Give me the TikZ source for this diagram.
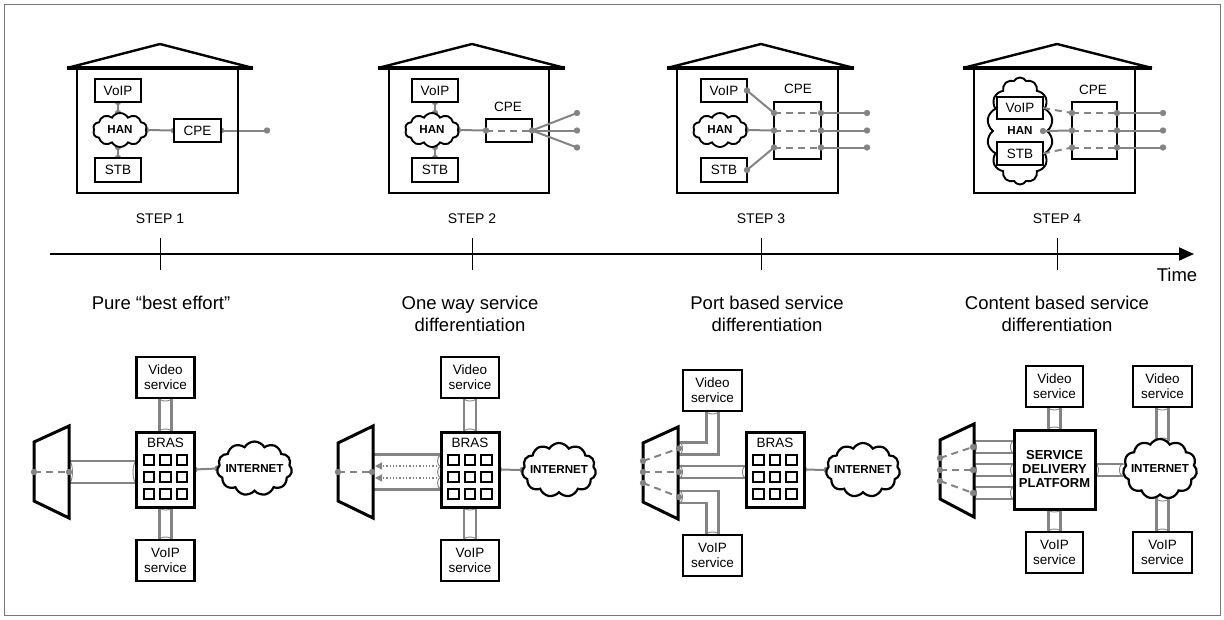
\documentclass[tikz,border=0pt]{standalone}
\usepackage{fontspec}
\setmainfont{Liberation Sans}
\usetikzlibrary{shapes.symbols,arrows.meta,calc}
\pgfdeclarelayer{bg}
\pgfsetlayers{bg,main}
\definecolor{wire}{RGB}{132,132,132}
\definecolor{framegray}{RGB}{120,120,120}
\newcommand\fsz[1]{\fontsize{#1}{#1}\selectfont}
\tikzset{
  every node/.style={inner sep=0pt, outer sep=0pt},
  hbox/.style={draw, line width=1.9pt, fill=white, minimum width=46pt, minimum height=23pt, font=\fsz{13.5}},
  svcbox/.style={draw, line width=2.3pt, fill=white, minimum width=58pt, minimum height=41pt, align=center, font=\fontsize{13.5}{15}\selectfont},
  brasbox/.style={draw, line width=3pt, fill=white, minimum width=58pt, minimum height=75pt},
  hancloud/.style={cloud, cloud puffs=10, cloud puff arc=120, cloud ignores aspect, draw, line width=1.9pt, fill=white},
  netcloud/.style={cloud, cloud puffs=11, cloud puff arc=120, cloud ignores aspect, draw, line width=2.2pt, fill=white, minimum width=75pt, minimum height=54pt},
  boldlbl/.style={font=\bfseries\fsz{11.6}},
  plainlbl/.style={font=\fsz{13.5}},
  steplbl/.style={font=\fsz{14}},
  caplbl/.style={font=\fontsize{18.5}{22}\selectfont, align=center},
  wireline/.style={draw=wire, line width=2pt},
  dashwire/.style={draw=wire, line width=2pt, dash pattern=on 7pt off 5pt},
  tube/.style={draw=wire, line width=2.5pt, double=white, double distance=#1},
  tube/.default=9.9pt,
  tubecap/.style={draw=wire, line width=0.9pt},
  trap/.style={draw, line width=3pt, fill=white, line join=miter},
}
\newcommand\wdot[1]{\fill[wire] (#1) circle (3.2pt);}
\newcommand\hcap[2]{\draw[tubecap] (#1) ellipse (3.5pt and #2);}
\newcommand\vcap[2]{\draw[tubecap] (#1) ellipse (#2 and 3pt);}
% house outline: eave left, peak, eave right, wall left, wall right
\newcommand\house[5]{%
  \draw[line width=2.5pt] (#4,68) rectangle (#5,193);
  \draw[line width=2.4pt, line join=miter] (#1,68) -- (#2,44) -- (#3,68);
  \draw[line width=3.2pt] (#1,68) -- (#3,68);}
% BRAS caption and 3x3 port grid inside a BRAS node
\newcommand\brasinside[1]{%
  \node[plainlbl] (#1-lbl) at ($(#1.center)+(0,-26.5)$) {BRAS};
  \foreach \dx in {-16.5,0,16.5}{\foreach \dy in {-9.5,7.5,24.5}{%
    \draw[line width=2pt] ($(#1.center)+(\dx,\dy)+(-5.25,-5.25)$) rectangle ++(10.5,10.5);}}}

\begin{document}
\begin{tikzpicture}[x=1pt,y=-1pt]
\useasboundingbox (0,0) rectangle (1224,619);
\draw[framegray, line width=1pt] (4,4) rectangle (1220,615);

% ---------------- STEP 1 home ----------------
\house{67}{160}{253}{77}{238}
\node[hbox] (h1voip) at (118,90.5) {VoIP};
\node[hancloud, minimum width=54pt, minimum height=34pt] (h1han) at (120,130) {};
\node[boldlbl] (h1hant) at (h1han) {HAN};
\node[hbox, minimum height=24pt] (h1stb) at (118,170) {STB};
\node[hbox, minimum width=47pt] (h1cpe) at (197.5,130.5) {CPE};
\coordinate (h1out) at (267,130.5);
\begin{pgfonlayer}{bg}
  \draw[wireline] (h1voip.south) -- (h1voip.south |- h1han.north);
  \wdot{h1voip.south}\wdot{h1voip.south |- h1han.north}
  \draw[wireline] (h1stb.north) -- (h1stb.north |- h1han.south);
  \wdot{h1stb.north}\wdot{h1stb.north |- h1han.south}
  \draw[wireline] (h1han.east) -- (h1cpe.west);
  \wdot{h1han.east}\wdot{h1cpe.west}
  \draw[wireline] (h1cpe.east) -- (h1out);
  \wdot{h1cpe.east}
\end{pgfonlayer}
\wdot{h1out}

% ---------------- STEP 2 home ----------------
\house{378}{472}{565}{389}{549}
\node[hbox] (h2voip) at (435,90.5) {VoIP};
\node[hancloud, minimum width=54pt, minimum height=34pt] (h2han) at (432,130) {};
\node[boldlbl] (h2hant) at (h2han) {HAN};
\node[hbox, minimum height=24pt] (h2stb) at (435,170) {STB};
\node[hbox] (h2cpe) at (509,130.5) {};
\node[plainlbl] (h2cpel) at (508,107) {CPE};
\coordinate (h2o1) at (577,113);
\coordinate (h2o2) at (577,130.5);
\coordinate (h2o3) at (577,147.5);
\begin{pgfonlayer}{bg}
  \draw[wireline] (h2voip.south) -- (h2voip.south |- h2han.north);
  \wdot{h2voip.south}\wdot{h2voip.south |- h2han.north}
  \draw[wireline] (h2stb.north) -- (h2stb.north |- h2han.south);
  \wdot{h2stb.north}\wdot{h2stb.north |- h2han.south}
  \draw[wireline] (h2han.east) -- (h2cpe.west);
  \wdot{h2han.east}
\end{pgfonlayer}
\draw[dashwire] (h2cpe.west) -- (h2cpe.east);
\foreach \o in {h2o1,h2o2,h2o3}{\draw[wireline] (h2cpe.east) -- (\o); \wdot{\o}}
\wdot{h2cpe.west}\wdot{h2cpe.east}

% ---------------- STEP 3 home ----------------
\house{667}{761}{854}{677}{838}
\node[hbox] (h3voip) at (724,90.5) {VoIP};
\node[hancloud, minimum width=54pt, minimum height=34pt] (h3han) at (720,130) {};
\node[boldlbl] (h3hant) at (h3han) {HAN};
\node[hbox, minimum height=24pt] (h3stb) at (724,170) {STB};
\node[draw, line width=1.9pt, fill=white, minimum width=47pt, minimum height=57pt] (h3cpe) at (797.5,130.5) {};
\node[plainlbl] (h3cpel) at (798,89) {CPE};
\foreach \i/\y in {1/113,2/130.5,3/147.5}{
  \coordinate (h3a\i) at (774,\y);
  \coordinate (h3b\i) at (821,\y);
  \coordinate (h3o\i) at (867,\y);
}
\begin{pgfonlayer}{bg}
  \draw[wireline] (h3han.east) -- (h3a2);
  \wdot{h3han.east}
\end{pgfonlayer}
\draw[wireline] (h3voip.east) -- (h3a1);
\draw[wireline] (h3stb.east) -- (h3a3);
\wdot{h3voip.east}\wdot{h3stb.east}
\foreach \i in {1,2,3}{
  \draw[dashwire] (h3a\i) -- (h3b\i);
  \draw[wireline] (h3b\i) -- (h3o\i);
  \wdot{h3a\i}\wdot{h3b\i}\wdot{h3o\i}}

% ---------------- STEP 4 home ----------------
\house{963}{1057}{1152}{974}{1135}
\node[hancloud, cloud puffs=14, minimum width=66pt, minimum height=107pt] (h4han) at (1020,131) {};
\node[hbox, minimum height=22pt] (h4voip) at (1020,108) {VoIP};
\node[boldlbl] (h4hant) at (1020,131) {HAN};
\node[hbox] (h4stb) at (1020,153.5) {STB};
\coordinate (h4hanp) at (1043,131);
\node[draw, line width=1.9pt, fill=white, minimum width=45pt, minimum height=57pt] (h4cpe) at (1094.5,130.5) {};
\node[plainlbl] (h4cpel) at (1093,90) {CPE};
\foreach \i/\y in {1/113,2/130.5,3/147.5}{
  \coordinate (h4a\i) at (1072,\y);
  \coordinate (h4b\i) at (1117,\y);
  \coordinate (h4o\i) at (1163,\y);
}
\begin{pgfonlayer}{bg}
  \wdot{h4voip.east}\wdot{h4stb.east}
\end{pgfonlayer}
\draw[dashwire] (h4voip.east) -- (h4a1);
\draw[dashwire] (h4stb.east) -- (h4a3);
\draw[wireline] (h4hanp) -- (h4a2);
\wdot{h4hanp}
\foreach \i in {1,2,3}{
  \draw[dashwire] (h4a\i) -- (h4b\i);
  \draw[wireline] (h4b\i) -- (h4o\i);
  \wdot{h4a\i}\wdot{h4b\i}\wdot{h4o\i}}

% ---------------- step captions ----------------
\node[steplbl] (st1) at (160,219) {STEP 1};
\node[steplbl] (st2) at (472,219) {STEP 2};
\node[steplbl] (st3) at (761,219) {STEP 3};
\node[steplbl] (st4) at (1057,219) {STEP 4};

% ---------------- time axis ----------------
\coordinate (t0) at (50,254);
\coordinate (t1) at (1194,254);
\draw[line width=2pt, -{Triangle[length=15pt,width=13pt]}] (t0) -- (t1);
\foreach \x in {160,472,761,1057}{\draw[line width=1pt] (\x,238) -- (\x,270);}
\node[caplbl] (tlbl) at (1177,275) {Time};

\node[caplbl] (c1) at (161,303) {Pure “best effort”};
\node[caplbl] (c2) at (470,314) {One way service\\differentiation};
\node[caplbl] (c3) at (767,314) {Port based service\\differentiation};
\node[caplbl] (c4) at (1057,314) {Content based service\\differentiation};

% ---------------- STEP 1 network ----------------
\draw[trap] (69,426) -- (69,518) -- (34,501) -- (34,442) -- cycle;
\coordinate (s1l) at (34,472);
\coordinate (s1r) at (69,472);
\draw[dashwire] (s1l) -- (s1r);
\wdot{s1l}\wdot{s1r}
\node[brasbox] (b1bras) at (165.5,469.5) {};
\brasinside{b1bras}
\node[netcloud] (b1net) at (254.5,468.5) {};
\node[boldlbl] (b1nett) at (b1net) {INTERNET};
\node[svcbox] (b1vid) at (165.5,377.5) {Video\\service};
\node[svcbox] (b1voip) at (165.5,560.5) {VoIP\\service};
\begin{pgfonlayer}{bg}
  \draw[tube=19.5pt] (s1r) -- (s1r -| b1bras.west);
  \hcap{s1r}{11pt}\hcap{s1r -| b1bras.west}{11pt}
  \draw[tube] (b1vid.south) -- (b1bras.north);
  \vcap{b1vid.south}{6.2pt}\vcap{b1bras.north}{6.2pt}
  \draw[tube] (b1bras.south) -- (b1voip.north);
  \vcap{b1bras.south}{6.2pt}\vcap{b1voip.north}{6.2pt}
  \draw[wireline] (b1bras.east) -- (b1net.west);
  \wdot{b1bras.east}\wdot{b1net.west}
\end{pgfonlayer}

% ---------------- STEP 2 network ----------------
\draw[trap] (373,426) -- (373,518) -- (338,501) -- (338,443) -- cycle;
\coordinate (s2l) at (338,472);
\coordinate (s2r) at (372,472);
\draw[dashwire] (s2l) -- (s2r);
\wdot{s2l}\wdot{s2r}
\node[brasbox] (b2bras) at (470,469.5) {};
\brasinside{b2bras}
\node[netcloud, minimum width=74pt] (b2net) at (559,470) {};
\node[boldlbl] (b2nett) at (b2net) {INTERNET};
\node[svcbox] (b2vid) at (470,377.5) {Video\\service};
\node[svcbox] (b2voip) at (470,560.5) {VoIP\\service};
\coordinate (s2p) at (374,472);
\coordinate (s2q) at (441,472);
\coordinate (s2a1) at (437,466);
\coordinate (s2a2) at (437,478);
\coordinate (s2e1) at (375,466);
\coordinate (s2e2) at (375,478);
\begin{pgfonlayer}{bg}
  \draw[tube=32.5pt] (s2p) -- (s2q);
  \foreach \i in {1,2}{\draw[wire, line width=1.3pt, dotted, -{Triangle[length=7pt,width=7pt]}] (s2a\i) -- (s2e\i);}
  \foreach \dy in {-11,0,11}{\draw[tubecap] ($(s2q)+(0,\dy)$) ellipse (3.5pt and 5.7pt);}
  \draw[tube] (b2vid.south) -- (b2bras.north);
  \vcap{b2vid.south}{6.2pt}\vcap{b2bras.north}{6.2pt}
  \draw[tube] (b2bras.south) -- (b2voip.north);
  \vcap{b2bras.south}{6.2pt}\vcap{b2voip.north}{6.2pt}
  \draw[wireline] (b2bras.east) -- (b2net.west);
  \wdot{b2bras.east}\wdot{b2net.west}
\end{pgfonlayer}

% ---------------- STEP 3 network ----------------
\draw[trap] (678,427) -- (678,519) -- (643,502) -- (643,443) -- cycle;
\coordinate (s3l1) at (643,461);
\coordinate (s3l2) at (643,472);
\coordinate (s3l3) at (643,483);
\coordinate (s3r1) at (679,448.5);
\coordinate (s3r2) at (679,472);
\coordinate (s3r3) at (679,497);
\foreach \i in {1,2,3}{\draw[dashwire] (s3l\i) -- (s3r\i); \wdot{s3l\i}\wdot{s3r\i}}
\node[brasbox] (b3bras) at (775,469.5) {};
\brasinside{b3bras}
\node[netcloud, minimum width=74pt] (b3net) at (863,470) {};
\node[boldlbl] (b3nett) at (b3net) {INTERNET};
\node[svcbox, minimum width=59pt] (b3vid) at (712.5,390.5) {Video\\service};
\node[svcbox, minimum width=59pt] (b3voip) at (712.5,555.5) {VoIP\\service};
\begin{pgfonlayer}{bg}
  \draw[tube, line join=miter] (s3r1) -- (s3r1 -| b3vid.south) -- (b3vid.south);
  \draw[tube, line join=miter] (s3r3) -- (s3r3 -| b3voip.north) -- (b3voip.north);
  \draw[tube] (s3r2) -- (s3r2 -| b3bras.west);
  \foreach \i in {1,2,3}{\hcap{s3r\i}{6.2pt}}
  \hcap{s3r2 -| b3bras.west}{6.2pt}
  \vcap{b3vid.south}{6.2pt}\vcap{b3voip.north}{6.2pt}
  \draw[wireline] (b3bras.east) -- (b3net.west);
  \wdot{b3bras.east}\wdot{b3net.west}
\end{pgfonlayer}

% ---------------- STEP 4 network ----------------
\draw[trap] (974,424) -- (974,517) -- (940,499) -- (940,440) -- cycle;
\coordinate (s4l1) at (940,458);
\coordinate (s4l2) at (940,470);
\coordinate (s4l3) at (940,481);
\coordinate (s4r1) at (973,447);
\coordinate (s4r2) at (973,470);
\coordinate (s4r3) at (973,493);
\foreach \i in {1,2,3}{\draw[dashwire] (s4l\i) -- (s4r\i); \wdot{s4l\i}\wdot{s4r\i}}
\node[draw, line width=3pt, fill=white, minimum width=81pt, minimum height=79pt, align=center, font=\bfseries\fontsize{13}{14}\selectfont] (b4sdp) at (1054.5,469.5) {SERVICE\\DELIVERY\\PLATFORM};
\node[netcloud, minimum width=74pt, minimum height=60pt] (b4net) at (1160,469) {};
\node[boldlbl] (b4nett) at (b4net) {INTERNET};
\node[svcbox, minimum width=57pt] (b4vid1) at (1054.5,386.5) {Video\\service};
\node[svcbox, minimum width=59pt] (b4vid2) at (1162.5,386.5) {Video\\service};
\node[svcbox, minimum width=57pt] (b4voip1) at (1054.5,552.5) {VoIP\\service};
\node[svcbox, minimum width=59pt] (b4voip2) at (1162.5,552.5) {VoIP\\service};
\coordinate (s4n) at (1162.5,441);
\coordinate (s4s) at (1162.5,498);
\coordinate (s4w) at (1123,470);
\begin{pgfonlayer}{bg}
  \foreach \i in {1,2,3}{
    \draw[tube] (s4r\i) -- (s4r\i -| b4sdp.west);
    \hcap{s4r\i}{6.2pt}\hcap{s4r\i -| b4sdp.west}{6.2pt}}
  \draw[tube] (b4sdp.east |- s4w) -- (s4w);
  \hcap{b4sdp.east |- s4w}{6.2pt}\hcap{s4w}{6.2pt}
  \draw[tube] (b4vid1.south) -- (b4sdp.north);
  \vcap{b4vid1.south}{6.2pt}\vcap{b4sdp.north}{6.2pt}
  \draw[tube] (b4sdp.south) -- (b4voip1.north);
  \vcap{b4sdp.south}{6.2pt}\vcap{b4voip1.north}{6.2pt}
  \draw[tube] (b4vid2.south) -- (s4n);
  \vcap{b4vid2.south}{6.2pt}\vcap{s4n}{6.2pt}
  \draw[tube] (s4s) -- (b4voip2.north);
  \vcap{s4s}{6.2pt}\vcap{b4voip2.north}{6.2pt}
\end{pgfonlayer}
\end{tikzpicture}
\end{document}
